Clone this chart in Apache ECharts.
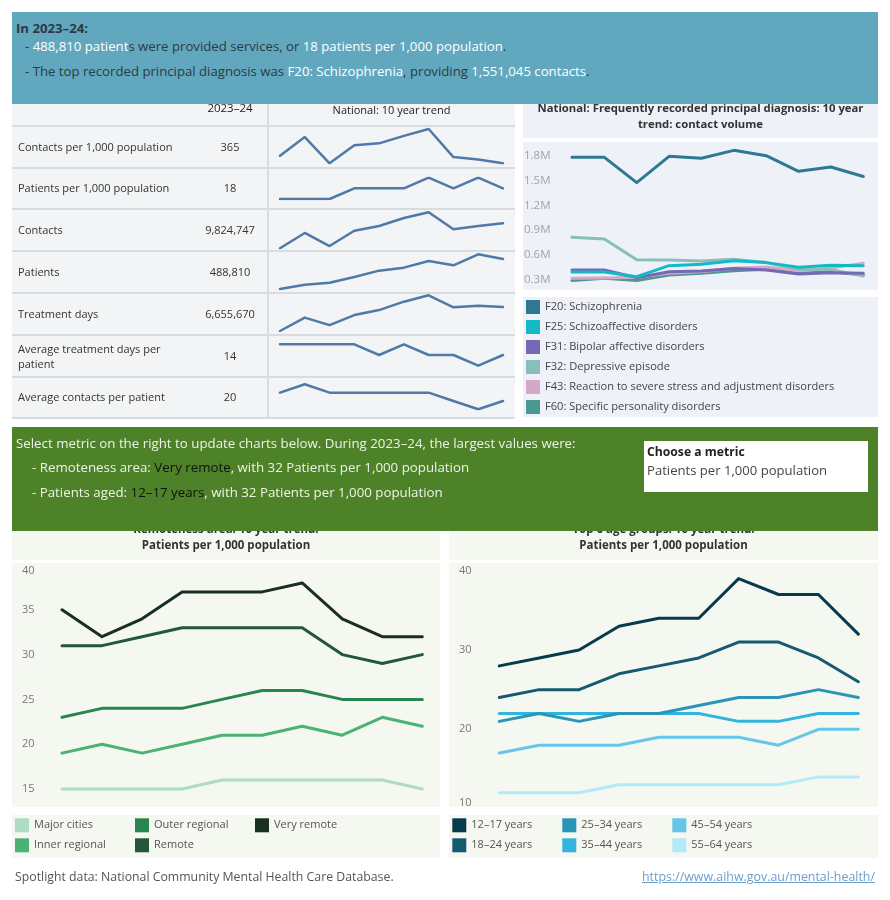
<!DOCTYPE html>
<html>
<head>
<meta charset="UTF-8">
<title>Community mental health care services</title>
<style>
  body { margin:0; width:890px; height:900px; position:relative; overflow:hidden; background:#fff;
         font-family:"Open Sans","Noto Sans",sans-serif; color:#333; }
  .bg { position:absolute; z-index:0; }
  .t { position:absolute; white-space:nowrap; z-index:2; }
  .banner { position:absolute; z-index:3; }
  .w { color:#fff; }
  .k { color:#111; }
  #chart { position:absolute; left:0; top:0; width:890px; height:900px; z-index:1; }
</style>
</head>
<body>

<!-- panel backgrounds -->
<div class="bg" style="left:12px;top:100px;width:503px;height:318px;background:#f2f4f5"></div>
<div class="bg" style="left:523px;top:100px;width:355px;height:38px;background:#eef1f8"></div>
<div class="bg" style="left:523px;top:142px;width:355px;height:148px;background:#eef1f8"></div>
<div class="bg" style="left:523px;top:297px;width:355px;height:120px;background:#eef1f8"></div>
<div class="bg" style="left:12px;top:526px;width:428px;height:34px;background:#f5f8f0"></div>
<div class="bg" style="left:12px;top:563px;width:428px;height:244px;background:#f5f8f0"></div>
<div class="bg" style="left:449px;top:526px;width:429px;height:34px;background:#f5f8f0"></div>
<div class="bg" style="left:449px;top:563px;width:429px;height:244px;background:#f5f8f0"></div>
<div class="bg" style="left:12px;top:815px;width:428px;height:43px;background:#f5f8f0"></div>
<div class="bg" style="left:449px;top:815px;width:429px;height:43px;background:#f5f8f0"></div>
<div id="table"></div>

<!-- top banner -->
<div class="banner" style="left:12px;top:12px;width:866px;height:92px;background:#61a8bf;color:#2d3a42;font-size:13.2px">
  <div class="t" style="left:4px;top:7px;line-height:18px;font-weight:bold">In 2023–24:</div>
  <div class="t" style="left:13px;top:24.5px;line-height:18px">- <span class="w">488,810 patient</span>s were provided services, or <span class="w">18 patients per 1,000 population</span>.</div>
  <div class="t" style="left:13px;top:50px;line-height:18px">- The top recorded principal diagnosis was <span class="w">F20: Schizophrenia</span>, providing <span class="w">1,551,045 contacts</span>.</div>
</div>

<!-- diagnosis title -->
<div class="t" style="left:523px;width:355px;top:100px;text-align:center;font-size:11.3px;font-weight:bold;line-height:15.7px;color:#333">National: Frequently recorded principal diagnosis: 10 year<br>trend: contact volume</div>

<!-- green banner -->
<div class="banner" style="left:12px;top:427px;width:866px;height:104px;background:#4e8229;color:#eef2e8;font-size:13.3px">
  <div class="t" style="left:4px;top:7px;line-height:18px">Select metric on the right to update charts below. During 2023–24, the largest values were:</div>
  <div class="t" style="left:20px;top:31px;line-height:18px">- Remoteness area: <span class="k">Very remote</span>, with 32 Patients per 1,000 population</div>
  <div class="t" style="left:20px;top:55.5px;line-height:18px">- Patients aged: <span class="k">12–17 years</span>, with 32 Patients per 1,000 population</div>
  <div style="position:absolute;left:632px;top:14px;width:224px;height:51px;background:#fff;color:#222">
    <div class="t" style="left:3px;top:2px;line-height:18px;font-weight:bold;font-size:12.2px">Choose a metric</div>
    <div class="t" style="left:3px;top:20px;line-height:18px;font-size:13.1px;color:#444">Patients per 1,000 population</div>
  </div>
</div>

<!-- lower chart titles -->
<div class="t" style="left:12px;width:428px;top:521px;text-align:center;font-size:11.5px;font-weight:bold;line-height:16px;color:#333">Remoteness area: 10 year trend:<br>Patients per 1,000 population</div>
<div class="t" style="left:449px;width:429px;top:521px;text-align:center;font-size:11.5px;font-weight:bold;line-height:16px;color:#333">Top 6 age groups: 10 year trend:<br>Patients per 1,000 population</div>

<!-- footer -->
<div class="t" style="left:15px;top:868px;line-height:18px;font-size:12.3px;color:#555">Spotlight data: National Community Mental Health Care Database.</div>
<div class="t" style="right:15px;top:868px;line-height:18px;font-size:12.4px;color:#6a9fcc;text-decoration:underline">https://www.aihw.gov.au/mental-health/</div>

<div id="chart"></div>

<script src="https://cdn.jsdelivr.net/npm/echarts@6/dist/echarts.min.js"></script>
<script>
// ---- data ----
var years = ['2014–15','2015–16','2016–17','2017–18','2018–19','2019–20','2020–21','2021–22','2022–23','2023–24'];

// national 10 year trend (sparklines), last value = 2023–24
var contactsPer1000     = [377, 407, 365, 394, 397, 409, 420, 375, 371, 365];
var patientsPer1000     = [17, 17, 17, 18, 18, 18, 19, 18, 19, 18];
var contacts            = [8600000, 9350000, 8710000, 9460000, 9690000, 10080000, 10360000, 9530000, 9690000, 9824747];
var patients            = [400000, 412800, 418700, 435500, 454300, 463100, 482900, 470000, 502600, 488810];
var treatmentDays       = [5600000, 6190000, 5860000, 6300000, 6520000, 6890000, 7170000, 6640000, 6710000, 6655670];
var avgDaysPerPatient   = [15, 15, 15, 15, 14, 15, 14, 14, 13, 14];
var avgContactsPerPatient = [21, 22, 21, 21, 21, 21, 21, 20, 19, 20];

// principal diagnosis contact volume
var diagNames = ['F20: Schizophrenia', 'F25: Schizoaffective disorders', 'F31: Bipolar affective disorders',
                 'F32: Depressive episode', 'F43: Reaction to severe stress and adjustment disorders',
                 'F60: Specific personality disorders'];
var f20 = [1784000, 1784000, 1476000, 1796000, 1772000, 1869000, 1804000, 1614000, 1666000, 1551045];
var f25 = [389000, 389000, 332000, 466000, 482000, 527000, 503000, 446000, 470000, 466000];
var f31 = [414000, 414000, 320000, 393000, 401000, 430000, 414000, 365000, 381000, 373000];
var f32 = [811000, 791000, 539000, 535000, 523000, 543000, 503000, 422000, 418000, 341000];
var f43 = [312000, 316000, 324000, 373000, 393000, 434000, 450000, 405000, 438000, 495000];
var f60 = [284000, 312000, 284000, 353000, 373000, 405000, 422000, 373000, 393000, 353000];

// remoteness area, patients per 1,000 population
var remoteNames = ['Major cities', 'Inner regional', 'Outer regional', 'Remote', 'Very remote'];
var majorCities   = [15, 15, 15, 15, 16, 16, 16, 16, 16, 15];
var innerRegional = [19, 20, 19, 20, 21, 21, 22, 21, 23, 22];
var outerRegional = [23, 24, 24, 24, 25, 26, 26, 25, 25, 25];
var remote        = [31, 31, 32, 33, 33, 33, 33, 30, 29, 30];
var veryRemote    = [35, 32, 34, 37, 37, 37, 38, 34, 32, 32];

// top 6 age groups, patients per 1,000 population
var ageNames = ['12–17 years', '18–24 years', '25–34 years', '35–44 years', '45–54 years', '55–64 years'];
var age12_17 = [28, 29, 30, 33, 34, 34, 39, 37, 37, 32];
var age18_24 = [24, 25, 25, 27, 28, 29, 31, 31, 29, 26];
var age25_34 = [21, 22, 21, 22, 22, 23, 24, 24, 25, 24];
var age35_44 = [22, 22, 22, 22, 22, 22, 21, 21, 22, 22];
var age45_54 = [17, 18, 18, 18, 19, 19, 19, 18, 20, 20];
var age55_64 = [12, 12, 12, 13, 13, 13, 13, 13, 14, 14];

// ---- table (labels, 2023-24 values, grid lines) ----
var metricLabels = ['Contacts per 1,000 population', 'Patients per 1,000 population', 'Contacts', 'Patients',
                    'Treatment days', 'Average treatment days per<br>patient', 'Average contacts per patient'];
var metricData = [contactsPer1000, patientsPer1000, contacts, patients, treatmentDays, avgDaysPerPatient, avgContactsPerPatient];

var rowTop = 125.7, rowH = 41.8;
var html = '';
html += '<div class="t" style="left:190px;width:80px;text-align:center;top:99px;line-height:18px;font-size:11.5px;color:#222">2023–24</div>';
html += '<div class="t" style="left:268px;width:247px;text-align:center;top:101px;line-height:18px;font-size:11px;color:#222">National: 10 year trend</div>';
html += '<div class="bg" style="left:267px;top:100px;width:2px;height:318px;background:#d9dcde;z-index:1"></div>';
for (var i = 0; i <= metricLabels.length; i++) {
    html += '<div class="bg" style="left:12px;top:' + Math.round(rowTop + i * rowH - 1) + 'px;width:503px;height:2px;background:#d9dcde;z-index:1"></div>';
}
for (var i = 0; i < metricLabels.length; i++) {
    var cy = rowTop + i * rowH + rowH / 2;
    var two = metricLabels[i].indexOf('<br>') >= 0;
    html += '<div class="t" style="left:18px;top:' + (cy - (two ? 15 : 8)) + 'px;line-height:' + (two ? 15 : 16) + 'px;font-size:11px;color:#333">' + metricLabels[i] + '</div>';
    var last = metricData[i][metricData[i].length - 1];
    html += '<div class="t" style="left:190px;width:80px;text-align:center;top:' + (cy - 8) + 'px;line-height:16px;font-size:11px;color:#333">' + last.toLocaleString('en-US') + '</div>';
}
document.getElementById('table').innerHTML = html;

// ---- chart ----
var chart = echarts.init(document.getElementById('chart'));
var font = '"Open Sans","Noto Sans",sans-serif';

var grids = [], xAxes = [], yAxes = [], series = [];

// sparkline insets inside each row: [top offset, bottom offset]
var sparkInset = [[3.3, 37.6], [10.2, 31.5], [3, 39], [3.2, 37.9], [2.4, 38.1], [9.6, 31], [7.8, 32.8]];
metricData.forEach(function (d, i) {
    var top = rowTop + i * rowH;
    grids.push({ left: 280, width: 223, top: top + sparkInset[i][0], height: sparkInset[i][1] - sparkInset[i][0] });
    xAxes.push({ gridIndex: i, type: 'category', data: years, boundaryGap: false, show: false });
    yAxes.push({ gridIndex: i, type: 'value', min: 'dataMin', max: 'dataMax', scale: true, show: false });
    series.push({ type: 'line', xAxisIndex: i, yAxisIndex: i, data: d, symbol: 'none', silent: true,
                  lineStyle: { color: '#4f7aa8', width: 2.5, cap: 'round', join: 'round' } });
});

function addPanel(gridSpec, yAxisSpec, names, dataList, colors, order) {
    var gi = grids.length;
    grids.push(gridSpec);
    xAxes.push({ gridIndex: gi, type: 'category', data: years, boundaryGap: false, show: false });
    yAxisSpec.gridIndex = gi;
    yAxes.push(yAxisSpec);
    order.forEach(function (k) {
        series.push({ type: 'line', name: names[k], xAxisIndex: gi, yAxisIndex: gi, data: dataList[k],
                      symbol: 'none', clip: false, color: colors[k], itemStyle: { color: colors[k] },
                      lineStyle: { color: colors[k], width: 3, cap: 'round', join: 'round' } });
    });
}

var diagColors = ['#2e7891', '#14b9c7', '#7668b5', '#89bfba', '#d6a7c9', '#4a9892'];
addPanel({ left: 572, width: 291.3, top: 147.8, height: 131.5 },
    { type: 'value', min: 300000, max: 1900000, interval: 300000,
      axisLine: { show: false }, axisTick: { show: false }, splitLine: { show: false },
      axisLabel: { showMaxLabel: false, align: 'left', margin: 48, color: '#a3a3a3', fontSize: 11.5, fontFamily: font,
                   formatter: function (v) { return (v / 1e6).toFixed(1) + 'M'; } } },
    diagNames, [f20, f25, f31, f32, f43, f60], diagColors, [5, 4, 3, 2, 1, 0]);

var remoteColors = ['#acdcc1', '#4bb274', '#27864e', '#23573a', '#182f22'];
addPanel({ left: 62, width: 360.3, top: 565, height: 224 },
    { type: 'value', min: 15, max: 40, interval: 5,
      axisLine: { show: false }, axisTick: { show: false }, splitLine: { show: false },
      axisLabel: { align: 'left', margin: 40, color: '#777', fontSize: 11, fontFamily: font, verticalAlignMaxLabel: 'top' } },
    remoteNames, [majorCities, innerRegional, outerRegional, remote, veryRemote], remoteColors, [0, 1, 2, 3, 4]);

var ageColors = ['#073a4b', '#155a71', '#2b95b9', '#33b4de', '#66c6e9', '#b3eafa'];
addPanel({ left: 499.3, width: 359, top: 570.7, height: 237.9 },
    { type: 'value', min: 10, max: 40, interval: 10,
      axisLine: { show: false }, axisTick: { show: false }, splitLine: { show: false },
      axisLabel: { align: 'left', margin: 40.3, color: '#777', fontSize: 11, fontFamily: font, verticalAlignMinLabel: 'bottom' } },
    ageNames, [age12_17, age18_24, age25_34, age35_44, age45_54, age55_64], ageColors, [5, 4, 3, 2, 1, 0]);

function legend(left, top, names, colors, idx, size, color) {
    return { left: left, top: top, orient: 'vertical', icon: 'rect', itemWidth: 14, itemHeight: 14, itemGap: 6,
             selectedMode: false, padding: 0,
             data: idx.map(function (k) { return { name: names[k], itemStyle: { color: colors[k] } }; }),
             textStyle: { color: color, fontSize: size, fontFamily: font } };
}

var legends = [
    legend(526, 300, diagNames, diagColors, [0, 1, 2, 3, 4, 5], 11.1, '#444'),
    legend(15, 818.3, remoteNames, remoteColors, [0, 1], 11, '#555'),
    legend(135, 818.3, remoteNames, remoteColors, [2, 3], 11, '#555'),
    legend(255, 818.3, remoteNames, remoteColors, [4], 11, '#555'),
    legend(452.3, 818.3, ageNames, ageColors, [0, 1], 11, '#555'),
    legend(562.3, 818.3, ageNames, ageColors, [2, 3], 11, '#555'),
    legend(672.3, 818.3, ageNames, ageColors, [4, 5], 11, '#555')
];

chart.setOption({
    animation: false,
    textStyle: { fontFamily: font },
    grid: grids,
    xAxis: xAxes,
    yAxis: yAxes,
    legend: legends,
    series: series
});
</script>
</body>
</html>
